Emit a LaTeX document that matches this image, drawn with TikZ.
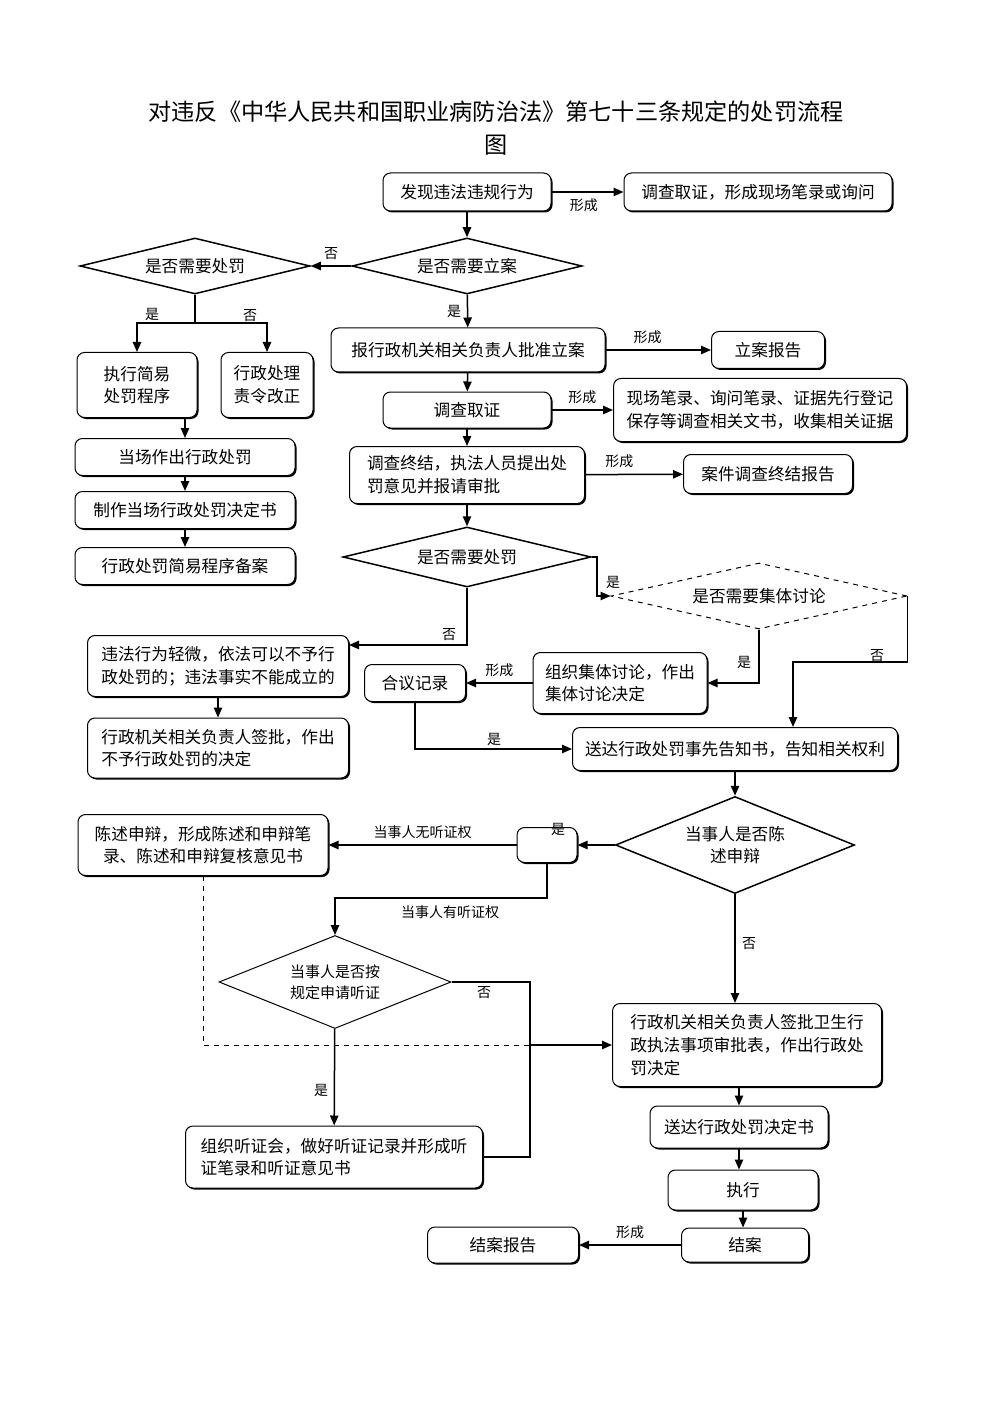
\documentclass[tikz,border=0pt]{standalone}
\usepackage{fontspec}
\setmainfont{Noto Sans CJK SC}
\usepackage{tikz}
\usetikzlibrary{
  arrows.meta,
  shapes.geometric,
  shadows
}
\newdimen\pxu
\pxu=0.6pt

\begin{document}
\begin{tikzpicture}[%样式设定
          x=0.6pt,y=-0.6pt,
          box/.style={
              draw,
              fill=white,
              rounded corners=4.5pt,
              line width=0.6pt,
              inner sep=0pt,
              font=\fontsize{10}{13.6}\selectfont,
              drop shadow={shadow xshift=0.9pt,shadow yshift=-0.9pt,fill=black,opacity=1}
            },sz/.style 2 args={
              minimum width=#1\pxu,
              minimum height=#2\pxu
            },dec/.style={
              draw,
              diamond,
              inner sep=0pt,
              line width=0.9pt,
              align=center,
              font=\fontsize{10}{13.6}\selectfont
            },arr/.style={
              line width=0.9pt,
              -{Triangle[length=6pt,width=5pt]}
            },ln/.style={
              line width=0.9pt
            },lab/.style={
              font=\fontsize{8.4}{10}\selectfont
            }
        ]
        \useasboundingbox (0,0) rectangle (992,1403);

        % 标题
        \node[font=\fontsize{13.9}{20}\selectfont] (title) at (496,112) {对违反《中华人民共和国职业病防治法》第七十三条规定的处罚流程};
        \node[font=\fontsize{13.9}{20}\selectfont] (title2) at (496,145) {图};

        % 上部
        \node[box,sz={168}{38}] (find) at (467,192) {发现违法违规行为};
        \node[box,sz={268}{38}] (survey1) at (758,192) {调查取证，形成现场笔录或询问};
        \node[dec,aspect=4.1,sz={230}{56}] (ifcase) at (467,266) {是否需要立案};
        \node[dec,aspect=4.1,sz={230}{56}] (ifpun1) at (195,266) {是否需要处罚};

        % 简易程序
        \node[box,sz={120}{65},align=left] (simple) at (137,385) {执行简易\\处罚程序};
        \node[box,sz={92}{65},align=left] (order) at (267,385) {行政处理\\责令改正};
        \node[box,sz={220}{37}] (spot) at (185,457) {当场作出行政处罚};
        \node[box,sz={220}{37}] (makedoc) at (185,510) {制作当场行政处罚决定书};
        \node[box,sz={220}{37}] (record) at (185,566) {行政处罚简易程序备案};

        % 立案与调查
        \node[box,sz={274}{44}] (approve) at (468,350) {报行政机关相关负责人批准立案};
        \node[box,sz={113}{37}] (rep1) at (768,350) {立案报告};
        \node[box,sz={168}{36}] (survey2) at (467,410) {调查取证};
        \node[box,sz={293}{63},align=left] (docs) at (760,410) {现场笔录、询问笔录、证据先行登记\\保存等调查相关文书，收集相关证据};
        \node[box,sz={235}{57},align=left] (finish) at (467,475) {调查终结，执法人员提出处\\罚意见并报请审批};
        \node[box,sz={169}{39}] (rep2) at (768,474) {案件调查终结报告};
        \node[dec,aspect=4.1,sz={248}{60}] (ifpun2) at (467,557) {是否需要处罚};
        \node[dec,aspect=4.5,dashed,line width=0.6pt,sz={296}{66}] (ifgroup) at (759,596) {是否需要集体讨论};

        % 中部
        \node[box,sz={261}{61},align=left] (light) at (218,666) {违法行为轻微，依法可以不予行\\政处罚的；违法事实不能成立的};
        \node[box,sz={261}{60},align=left] (nopun) at (218,748) {行政机关相关负责人签批，作出\\不予行政处罚的决定};
        \node[box,sz={174}{61},align=left] (discuss) at (620,683) {组织集体讨论，作出\\集体讨论决定};
        \node[box,sz={101}{37}] (minutes) at (415,683) {合议记录};
        \node[box,sz={325}{43}] (notify) at (735,749) {送达行政处罚事先告知书，告知相关权利};

        % 陈述申辩与听证
        \node[dec,aspect=2.46,sz={239}{97}] (ifstate) at (735,845) {当事人是否陈\\述申辩};
        \node[box,sz={60}{35}] (mid) at (547,845) {};
        \node[lab] at (558,829) {是};
        \node[box,sz={250}{61},align=center] (state) at (203,845) {陈述申辩，形成陈述和申辩笔\\录、陈述和申辩复核意见书};
        \node[dec,aspect=2.5,line width=0.6pt,sz={232}{93},font=\fontsize{9}{12.5}\selectfont] (ifhear) at (335,982) {当事人是否按\\规定申请听证};
        \node[box,sz={297}{62},align=left] (hearing) at (334,1157) {组织听证会，做好听证记录并形成听\\证笔录和听证意见书};
        \node[box,sz={269}{83},align=left] (sign) at (747,1045) {行政机关相关负责人签批卫生行\\政执法事项审批表，作出行政处\\罚决定};

        % 下部
        \node[box,sz={178}{42}] (deliver) at (739,1127) {送达行政处罚决定书};
        \node[box,sz={150}{40}] (exec) at (743,1190) {执行};
        \node[box,sz={127}{34}] (close) at (745,1245) {结案};
        \node[box,sz={151}{36}] (rep3) at (503,1245) {结案报告};

        % 连线
        \draw[arr] (find) -- (survey1) node[lab,below,pos=.45] {形成};
        \draw[arr] (find) -- (ifcase);
        \draw[arr] (ifcase) -- (ifpun1) node[lab,above,midway] {否};
        \draw[arr] (ifcase) -- (approve) node[lab,left,midway] {是};
        \draw[ln] (ifpun1.south) -- (195,323) coordinate (split);
        \draw[arr] (split) -| (simple.north);
        \draw[arr] (split) -| (order.north);
        \node[lab] at (152,314) {是};
        \node[lab] at (250,316) {否};
        \draw[arr] (simple.south -| spot.north) -- (spot.north);
        \draw[arr] (spot) -- (makedoc);
        \draw[arr] (makedoc) -- (record);

        \draw[arr] (approve) -- (rep1) node[lab,above,pos=.4] {形成};
        \draw[arr] (approve) -- (survey2);
        \draw[arr] (survey2) -- (docs) node[lab,above,midway] {形成};
        \draw[arr] (survey2) -- (finish);
        \draw[arr] (finish) -- (rep2) node[lab,above,pos=.35] {形成};
        \draw[arr] (finish) -- (ifpun2);

        \draw[arr] (ifpun2.east) -- (597,557) |- (ifgroup.west);
        \node[lab] at (613,582) {是};
        \draw[arr] (ifpun2.south) |- (light.east |- 0,645);
        \node[lab] at (449,635) {否};
        \draw[arr] (light) -- (nopun);
        \draw[arr] (ifgroup.south) |- (discuss.east);
        \node[lab] at (744,662) {是};
        \draw[arr] (discuss) -- (minutes) node[lab,above,midway] {形成};
        \draw[arr] (ifgroup.east) |- (793,662) -- (793,0 |- notify.north);
        \node[lab] at (877,656) {否};
        \draw[arr] (minutes.south) |- (notify.west);
        \node[lab] at (494,739) {是};

        \draw[arr] (notify) -- (ifstate);
        \draw[arr] (ifstate) -- (mid);
        \draw[arr] (mid) -- (state) node[lab,above,midway] {当事人无听证权};
        \draw[arr] (mid.south) -- (547,898) -| (ifhear.north);
        \node[lab] at (450,912) {当事人有听证权};
        \draw[arr] (ifhear) -- (hearing);
        \node[lab] at (321,1090) {是};
        \draw[ln] (ifhear.east) -- (530,982) -- (530,1157) -- (hearing.east);
        \node[lab] at (484,993) {否};
        \draw[dashed,line width=0.5pt] (state.south) -- (203,1045) -- (530,1045);
        \draw[arr] (530,1045) -- (sign.west);
        \draw[arr] (ifstate.south) -- (ifstate.south |- sign.north);
        \node[lab] at (749,944) {否};

        \draw[arr] (deliver.north |- sign.south) -- (deliver.north);
        \draw[arr] (deliver.south) -- (deliver.south |- exec.north);
        \draw[arr] (exec.south) -- (exec.south |- close.north);
        \draw[arr] (close) -- (rep3) node[lab,above,midway] {形成};
      \end{tikzpicture}
\end{document}
